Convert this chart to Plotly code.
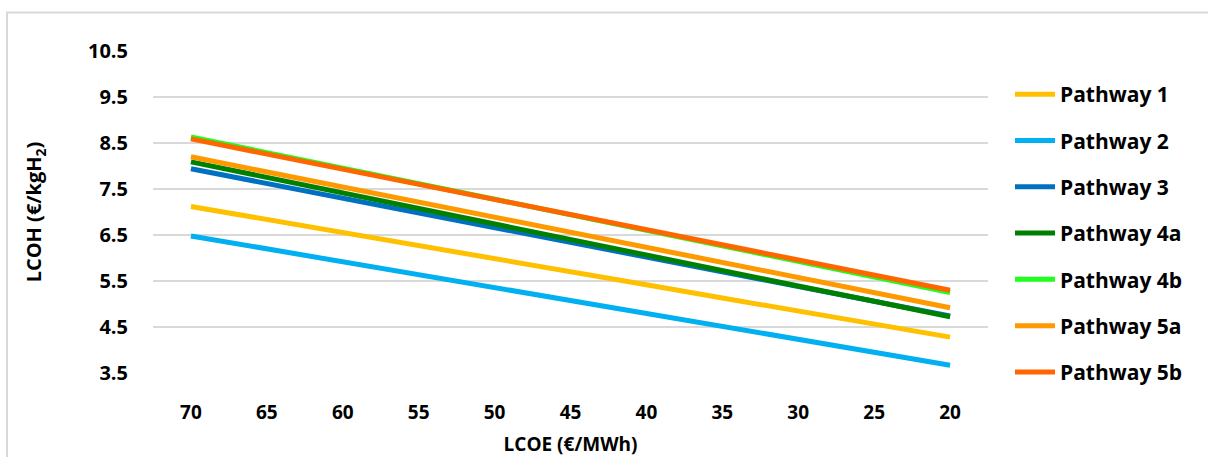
import plotly.graph_objects as go

lcoe = ["70", "65", "60", "55", "50", "45", "40", "35", "30", "25", "20"]

pathway_1 = [7.12, 6.84, 6.55, 6.27, 5.98, 5.70, 5.42, 5.13, 4.85, 4.56, 4.28]
pathway_2 = [6.48, 6.20, 5.92, 5.64, 5.36, 5.08, 4.79, 4.51, 4.23, 3.95, 3.67]
pathway_3 = [7.94, 7.62, 7.30, 6.98, 6.66, 6.34, 6.02, 5.70, 5.38, 5.06, 4.74]
pathway_4a = [8.09, 7.75, 7.42, 7.08, 6.74, 6.41, 6.07, 5.73, 5.39, 5.06, 4.72]
pathway_4b = [8.63, 8.29, 7.95, 7.62, 7.28, 6.94, 6.60, 6.26, 5.93, 5.59, 5.25]
pathway_5a = [8.20, 7.87, 7.54, 7.22, 6.89, 6.56, 6.23, 5.90, 5.57, 5.25, 4.92]
pathway_5b = [8.59, 8.26, 7.93, 7.60, 7.27, 6.95, 6.62, 6.29, 5.96, 5.63, 5.30]

names = ["Pathway 1", "Pathway 2", "Pathway 3", "Pathway 4a", "Pathway 4b", "Pathway 5a", "Pathway 5b"]
series = [pathway_1, pathway_2, pathway_3, pathway_4a, pathway_4b, pathway_5a, pathway_5b]
colors = ["#FFC000", "#00B0F0", "#0070C0", "#008000", "#1EFF1E", "#FF9900", "#FF6600"]

y_ticks = [3.5, 4.5, 5.5, 6.5, 7.5, 8.5, 9.5, 10.5]

FONT = "Open Sans"
bold = lambda s: dict(family=FONT, size=s, color="black", weight="bold")

fig = go.Figure()
for name, vals, col in zip(names, series, colors):
    fig.add_trace(go.Scatter(
        x=lcoe, y=vals, mode="lines", name=name, legendgroup=name,
        line=dict(color=col, width=5),
    ))

fig.update_layout(
    width=1208, height=457,
    margin=dict(l=153, r=220, t=51, b=84, autoexpand=False),
    paper_bgcolor="white", plot_bgcolor="white",
    font=bold(20),
    showlegend=True,
    legend=dict(
        x=(1010 - 153) / 835, xanchor="left",
        yref="container", y=1 - 74 / 457, yanchor="top",
        maxheight=1.0,
        font=bold(21),
        tracegroupgap=16, itemwidth=40, bgcolor="rgba(0,0,0,0)",
    ),
    xaxis=dict(
        type="category", range=[-0.5, 10.5], showgrid=False, showline=False,
        zeroline=False, ticks="", ticklabelstandoff=26, automargin=False,
        tickfont=bold(19),
        title=dict(text="LCOE (€/MWh)", standoff=22, font=bold(19)),
    ),
    yaxis=dict(
        range=[3.5, 10.5], tickvals=y_ticks, ticktext=[f"{v:.1f}" for v in y_ticks],
        showgrid=True, gridcolor="#D9D9D9", gridwidth=1.5, zeroline=False,
        showline=False, ticks="", ticklabelstandoff=24, automargin=False,
        tickfont=bold(20),
        title=dict(text="LCOH (€/kgH<sub>2</sub>)", standoff=40, font=bold(20)),
    ),
    shapes=[dict(
        type="rect", xref="paper", yref="paper",
        x0=(7 - 153) / 835, x1=(1215 - 153) / 835,
        y0=(373 - 465) / 322, y1=(373 - 12.5) / 322,
        line=dict(color="#D9D9D9", width=2), fillcolor="rgba(0,0,0,0)", layer="below",
    )],
)

fig.write_html("out.html")
